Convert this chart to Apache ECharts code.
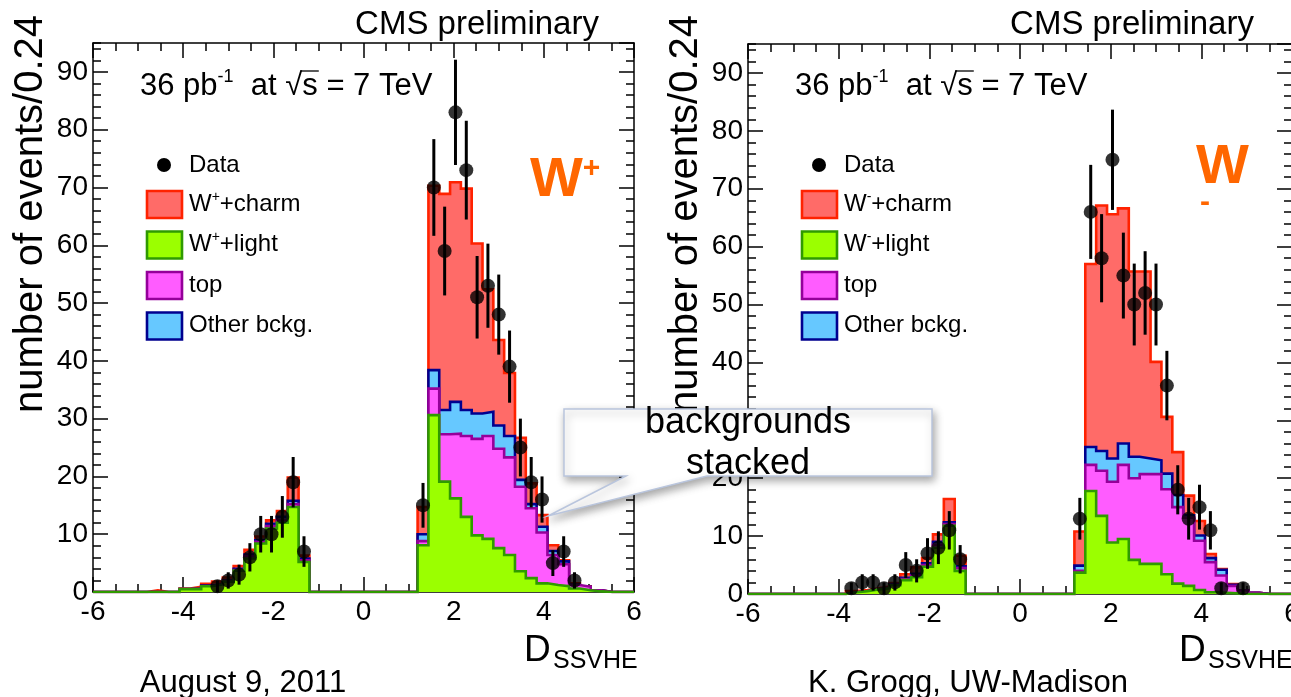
<!DOCTYPE html>
<html>
<head>
<meta charset="utf-8">
<script src="https://cdn.jsdelivr.net/npm/echarts@6/dist/echarts.min.js"></script>
<style>
  html, body { margin: 0; padding: 0; background: #fff; }
  #chart { width: 1291px; height: 697px; }
</style>
</head>
<body>
<div id="chart"></div>
<script>
// D_SSVHE discriminator: 50 bins of width 0.24 between -6 and 6
const BIN_LO = -6;
const BIN_W = 0.24;
const N_BINS = 50;
const X_MIN = -6, X_MAX = 6, X_MAJOR = 2, X_MINOR = 0.5;
const Y_MIN = 0, Y_MAX = 95, Y_MAJOR = 10, Y_MINOR = 2;

// ---- W+ sample: expected events per bin for each process ----
const plusLight = [
  0, 0, 0, 0, 0, 0, 0, 0, 0.5, 0.5,
  1.0, 1.3, 1.8, 3.7, 5.8, 8.4, 11.0, 12.0, 14.7, 5.2,
  0, 0, 0, 0, 0, 0, 0, 0, 0, 0,
  8.1, 30.6, 19.1, 16.2, 13.0, 9.8, 9.2, 7.6, 6.4, 3.6,
  2.4, 1.5, 1.2, 1.0, 0.6, 0.3, 0.1, 0, 0, 0
];
const plusTop = [
  0, 0, 0, 0, 0, 0, 0, 0, 0, 0,
  0, 0, 0.1, 0.1, 0.4, 0.3, 0.4, 0.5, 0.5, 0.3,
  0, 0, 0, 0, 0, 0, 0, 0, 0, 0,
  0.7, 4.6, 8.2, 11.2, 14.0, 16.7, 17.8, 17.2, 16.9, 14.6,
  12.1, 8.8, 5.2, 3.8, 0.6, 0.6, 0.2, 0, 0, 0
];
const plusOther = [
  0, 0, 0, 0, 0, 0, 0, 0, 0, 0.1,
  0.1, 0.1, 0.1, 0.2, 0.3, 0.3, 0.4, 0.5, 0.6, 0.3,
  0, 0, 0, 0, 0, 0, 0, 0, 0, 0,
  1.2, 3.2, 4.2, 5.5, 4.5, 4.4, 4.2, 4.0, 3.7, 1.2,
  0.7, 1.0, 0.7, 0.5, 0.1, 0, 0, 0, 0, 0
];
const plusCharm = [
  0, 0, 0, 0, 0, 0.3, 0, 0, 0.1, 0.3,
  0.3, 0.4, 0.5, 0.5, 0.8, 0.6, 0.6, 1.0, 4.0, 0.5,
  0, 0, 0, 0, 0, 0, 0, 0, 0, 0,
  4.7, 31.9, 37.4, 38.0, 38.3, 29.4, 21.2, 14.8, 10.9, 7.3,
  3.6, 2.0, 1.0, 0.2, 0.2, 0.1, 0, 0, 0, 0
];
const plusData = [
  0, 0, 0, 0, 0, 0, 0, 0, 0, 0,
  0, 1, 2, 3, 6, 10, 10, 13, 19, 7,
  0, 0, 0, 0, 0, 0, 0, 0, 0, 0,
  15, 70, 59, 83, 73, 51, 53, 48, 39, 25,
  19, 16, 5, 7, 2, 0, 0, 0, 0, 0
];

// ---- W- sample ----
const minusLight = [
  0, 0, 0, 0, 0, 0, 0, 0, 0, 0.3,
  0.5, 0.8, 1.0, 1.5, 2.4, 2.9, 4.7, 8.0, 11.8, 4.0,
  0, 0, 0, 0, 0, 0, 0, 0, 0, 0,
  3.7, 17.8, 13.5, 8.9, 9.5, 5.9, 5.2, 5.2, 3.4, 1.8,
  1.4, 0.7, 0.3, 0.2, 0.1, 0, 0, 0, 0, 0
];
const minusTop = [
  0, 0, 0, 0, 0, 0, 0, 0, 0, 0,
  0, 0, 0, 0.1, 0.2, 0.3, 0.3, 0.5, 0.3, 0.5,
  0, 0, 0, 0, 0, 0, 0, 0, 0, 0,
  0.3, 4.5, 7.8, 10.5, 12.8, 14.1, 15.5, 15.5, 14.7, 13.2,
  11.8, 8.5, 5.2, 3.0, 1.3, 0.6, 0.2, 0, 0, 0
];
const minusOther = [
  0, 0, 0, 0, 0, 0, 0, 0, 0, 0,
  0, 0, 0.1, 0.1, 0.2, 0.3, 0.3, 0.5, 0.3, 0.3,
  0, 0, 0, 0, 0, 0, 0, 0, 0, 0,
  0.9, 3.1, 3.4, 4.0, 3.7, 3.7, 2.7, 2.4, 2.7, 2.1,
  0.4, 0.9, 0.7, 1.0, 0.2, 0, 0, 0, 0, 0
];
const minusCharm = [
  0, 0, 0, 0, 0, 0, 0, 0, 0, 0.2,
  0.2, 0.2, 0.2, 0.2, 0.6, 1.1, 0.9, 1.3, 4.0, 1.8,
  0, 0, 0, 0, 0, 0, 0, 0, 0, 0,
  5.9, 31.6, 42.4, 42.2, 40.6, 32.0, 32.3, 17.0, 9.8, 7.4,
  3.4, 2.5, 0.7, 0.1, 0.1, 0, 0, 0, 0, 0
];
const minusData = [
  0, 0, 0, 0, 0, 0, 0, 0, 0, 1,
  2, 2, 1, 2, 5, 4, 7, 8, 11, 6,
  0, 0, 0, 0, 0, 0, 0, 0, 0, 0,
  13, 66, 58, 75, 55, 50, 52, 50, 36, 18,
  13, 15, 11, 1, 0, 1, 0, 0, 0, 0
];

const FONT = '"Liberation Sans", Arial, Helvetica, sans-serif';

// fill / outline colours of the stacked processes (bottom of the stack first)
const PROC = {
  light: { fill: '#9bff00', line: '#2f9a00' },
  top:   { fill: '#ff5cff', line: '#95009a' },
  other: { fill: '#66c8ff', line: '#00008f' },
  charm: { fill: '#ff6b68', line: '#ff2200' }
};

const binEdges = Array.from({ length: N_BINS + 1 }, (_, k) => +(BIN_LO + k * BIN_W).toFixed(2));
const binCenters = Array.from({ length: N_BINS }, (_, k) => +(BIN_LO + (k + 0.5) * BIN_W).toFixed(2));

function cumulate(layers) {
  const out = [];
  let acc = new Array(N_BINS).fill(0);
  layers.forEach(l => {
    acc = acc.map((v, k) => v + l[k]);
    out.push(acc.slice());
  });
  return out;
}

function stepPoints(vals) {
  const pts = vals.map((v, k) => [binEdges[k], v]);
  pts.push([binEdges[N_BINS], vals[N_BINS - 1]]);
  return pts;
}

function histSeries(name, vals, style, axis, z) {
  return {
    name, type: 'line', step: 'end', data: stepPoints(vals),
    xAxisIndex: axis, yAxisIndex: axis,
    symbol: 'none', silent: true, animation: false, z,
    lineStyle: { color: style.line, width: 2.6, join: 'miter' },
    areaStyle: { color: style.fill, opacity: 1 },
    itemStyle: { color: style.fill }
  };
}

function dataSeries(name, counts, axis) {
  const pts = [];
  counts.forEach((n, k) => { if (n > 0) pts.push([binCenters[k], n, Math.sqrt(n)]); });
  return [
    {
      name: name + ' err', type: 'custom', xAxisIndex: axis, yAxisIndex: axis,
      data: pts, z: 20, silent: true, animation: false,
      renderItem(params, api) {
        const x = api.value(0), v = api.value(1), e = api.value(2);
        const a = api.coord([x, v - e]);
        const b = api.coord([x, v + e]);
        return { type: 'line', shape: { x1: a[0], y1: a[1], x2: b[0], y2: b[1] },
                 style: { stroke: '#000', lineWidth: 3 } };
      }
    },
    {
      name, type: 'scatter', xAxisIndex: axis, yAxisIndex: axis,
      data: pts.map(p => [p[0], p[1]]), symbol: 'circle', symbolSize: 14,
      itemStyle: { color: '#000' }, z: 21, silent: true, animation: false
    }
  ];
}

const panels = [
  { light: plusLight, top: plusTop, other: plusOther, charm: plusCharm, data: plusData, grid: { left: 93, top: 43, width: 541, height: 549 } },
  { light: minusLight, top: minusTop, other: minusOther, charm: minusCharm, data: minusData, grid: { left: 748, top: 44, width: 544, height: 550 } }
];

const tickLine = { color: '#000', width: 1.5 };
const grids = [], xAxes = [], yAxes = [], series = [];

panels.forEach((p, g) => {
  grids.push(Object.assign({ containLabel: false, outerBoundsMode: 'none' }, p.grid));
  const xb = { gridIndex: g, type: 'value', min: X_MIN, max: X_MAX, splitLine: { show: false } };
  const yb = { gridIndex: g, type: 'value', min: Y_MIN, max: Y_MAX, splitLine: { show: false } };
  // main axes first so that series can use the same index as their grid
  xAxes.push(Object.assign({}, xb, {
    position: 'bottom', interval: X_MAJOR,
    axisLine: { show: true, onZero: false, lineStyle: tickLine },
    axisTick: { show: true, inside: true, length: 15, lineStyle: tickLine },
    axisLabel: { show: true, color: '#000', fontSize: 28, fontFamily: FONT, margin: 6 }
  }));
  yAxes.push(Object.assign({}, yb, {
    position: 'left', interval: Y_MAJOR,
    axisLine: { show: true, onZero: false, lineStyle: tickLine },
    axisTick: { show: true, inside: true, length: 15, lineStyle: tickLine },
    axisLabel: { show: true, color: '#000', fontSize: 28, fontFamily: FONT, margin: 5, showMaxLabel: false }
  }));
});

// frame: minor ticks and mirrored ticks on the opposite sides
panels.forEach((p, g) => {
  const xb = { gridIndex: g, type: 'value', min: X_MIN, max: X_MAX, splitLine: { show: false }, axisLabel: { show: false } };
  const yb = { gridIndex: g, type: 'value', min: Y_MIN, max: Y_MAX, splitLine: { show: false }, axisLabel: { show: false } };
  xAxes.push(Object.assign({}, xb, { position: 'bottom', interval: X_MINOR, axisLine: { show: false, onZero: false },
    axisTick: { inside: true, length: 8, lineStyle: tickLine } }));
  xAxes.push(Object.assign({}, xb, { position: 'top', interval: X_MAJOR, axisLine: { show: true, onZero: false, lineStyle: tickLine },
    axisTick: { inside: true, length: 15, lineStyle: tickLine } }));
  xAxes.push(Object.assign({}, xb, { position: 'top', interval: X_MINOR, axisLine: { show: false, onZero: false },
    axisTick: { inside: true, length: 8, lineStyle: tickLine } }));
  yAxes.push(Object.assign({}, yb, { position: 'left', interval: Y_MINOR, axisLine: { show: false, onZero: false },
    axisTick: { inside: true, length: 8, lineStyle: tickLine } }));
  yAxes.push(Object.assign({}, yb, { position: 'right', interval: Y_MAJOR, axisLine: { show: true, onZero: false, lineStyle: tickLine },
    axisTick: { inside: true, length: 15, lineStyle: tickLine } }));
  yAxes.push(Object.assign({}, yb, { position: 'right', interval: Y_MINOR, axisLine: { show: false, onZero: false },
    axisTick: { inside: true, length: 8, lineStyle: tickLine } }));
});

panels.forEach((p, g) => {
  const [cLight, cTop, cOther, cCharm] = cumulate([p.light, p.top, p.other, p.charm]);
  const tag = g === 0 ? 'W+' : 'W-';
  series.push(histSeries(tag + ' charm', cCharm, PROC.charm, g, 2));
  series.push(histSeries(tag + ' other', cOther, PROC.other, g, 3));
  series.push(histSeries(tag + ' top', cTop, PROC.top, g, 4));
  series.push(histSeries(tag + ' light', cLight, PROC.light, g, 5));
  series.push(...dataSeries(tag + ' data', p.data, g));
});

// ---- text, legends and the annotation ----
const measureCtx = document.createElement('canvas').getContext('2d');
function textWidth(s, size) {
  measureCtx.font = size + 'px ' + FONT;
  return measureCtx.measureText(s).width;
}

const els = [];
function txt(x, y, text, size, extra) {
  els.push(Object.assign({
    type: 'text', x, y, z: 50,
    style: Object.assign({ text, font: size + 'px ' + FONT, fill: '#000', align: 'left', verticalAlign: 'middle' }, extra || {})
  }));
}

const LUMI_SIZE = 31, LUMI_SUP = 18;
function panelText(dx, sign) {
  txt(477 + dx, 25, 'CMS preliminary', 33, { align: 'center' });
  const lx = 140 + dx, ly = 86;
  els.push({
    type: 'text', x: lx, y: ly, z: 50,
    style: {
      text: '{a|36 pb}{s|-1}{a|  at \u221A}{a|s = 7 TeV}', align: 'left', verticalAlign: 'middle',
      rich: {
        a: { fontSize: LUMI_SIZE, fontFamily: FONT, fill: '#000', lineHeight: 36 },
        s: { fontSize: LUMI_SUP, fontFamily: FONT, fill: '#000', lineHeight: 36, verticalAlign: 'top' }
      }
    }
  });
  // bar of the square root over "s"
  const sx = lx + textWidth('36 pb', LUMI_SIZE) + textWidth('-1', LUMI_SUP) + textWidth('  at \u221A', LUMI_SIZE);
  els.push({ type: 'line', z: 50, shape: { x1: sx - 2, y1: ly - 15, x2: sx + textWidth('s', LUMI_SIZE) + 1, y2: ly - 15 },
    style: { stroke: '#000', lineWidth: 1.3 } });
  // legend
  els.push({ type: 'circle', shape: { cx: 164 + dx, cy: 165, r: 7 }, style: { fill: '#000' }, z: 50 });
  txt(189 + dx, 165, 'Data', 24);
  const items = [
    [PROC.charm, 'charm', '+charm'],
    [PROC.light, 'light', '+light'],
    [PROC.top, null, 'top'],
    [PROC.other, null, 'Other bckg.']
  ];
  items.forEach((it, i) => {
    const cy = 204 + i * 40.5;
    els.push({ type: 'rect', shape: { x: 147 + dx, y: cy - 13, width: 35, height: 27 },
      style: { fill: it[0].fill, stroke: it[0].line, lineWidth: 2.6 }, z: 50 });
    if (it[1]) {
      els.push({ type: 'text', x: 189 + dx, y: cy, z: 50, style: {
        text: '{a|W}{s|' + sign + '}{a|' + it[2] + '}', align: 'left', verticalAlign: 'middle',
        rich: {
          a: { fontSize: 24, fontFamily: FONT, fill: '#000', lineHeight: 28 },
          s: { fontSize: 14, fontFamily: FONT, fill: '#000', lineHeight: 28, verticalAlign: 'top' }
        } } });
    } else {
      txt(189 + dx, cy, it[2], 24);
    }
  });
  // y-axis title, reading upwards
  els.push({ type: 'text', x: 31 + dx, y: 15, rotation: Math.PI / 2, z: 50,
    style: { text: 'number of events/0.24', font: '40px ' + FONT, fill: '#000', align: 'right', verticalAlign: 'middle' } });
  // x-axis title
  txt(524 + dx, 651, 'D', 37);
  txt(553 + dx, 661, 'SSVHE', 25);
}
panelText(0, '+');
panelText(655, '-');

// sample labels
els.push({ type: 'text', x: 530, y: 181, z: 50, style: {
  text: '{w|W}{s|+}', align: 'left', verticalAlign: 'middle',
  rich: {
    w: { fontSize: 56, fontWeight: 'bold', fontFamily: FONT, fill: '#ff6600', lineHeight: 54 },
    s: { fontSize: 30, fontWeight: 'bold', fontFamily: FONT, fill: '#ff6600', lineHeight: 54, verticalAlign: 'top' }
  } } });
txt(1196, 168, 'W', 56, { fill: '#ff6600', font: 'bold 56px ' + FONT });
txt(1200, 203, '-', 30, { fill: '#ff6600', font: 'bold 30px ' + FONT });

txt(243, 683, 'August 9, 2011', 31, { align: 'center' });
txt(968, 683, 'K. Grogg, UW-Madison', 31, { align: 'center' });

// callout pointing at the stacked backgrounds
els.push({
  type: 'polygon', z: 60,
  shape: { points: [[564, 409], [932, 409], [932, 476], [707, 476], [548, 516], [626, 476], [564, 476]] },
  style: { fill: '#fff', stroke: '#b9c5dd', lineWidth: 1.5, shadowBlur: 8, shadowColor: 'rgba(0,0,0,0.35)', shadowOffsetX: 2, shadowOffsetY: 4 }
});
txt(748, 423, 'backgrounds', 36, { align: 'center' });
txt(748, 464, 'stacked', 36, { align: 'center' });
els.slice(-2).forEach(e => { e.z = 61; });

const chart = echarts.init(document.getElementById('chart'), null, { renderer: 'canvas' });
chart.setOption({
  animation: false,
  backgroundColor: '#fff',
  grid: grids,
  xAxis: xAxes,
  yAxis: yAxes,
  series,
  graphic: { elements: els }
});
</script>
</body>
</html>
